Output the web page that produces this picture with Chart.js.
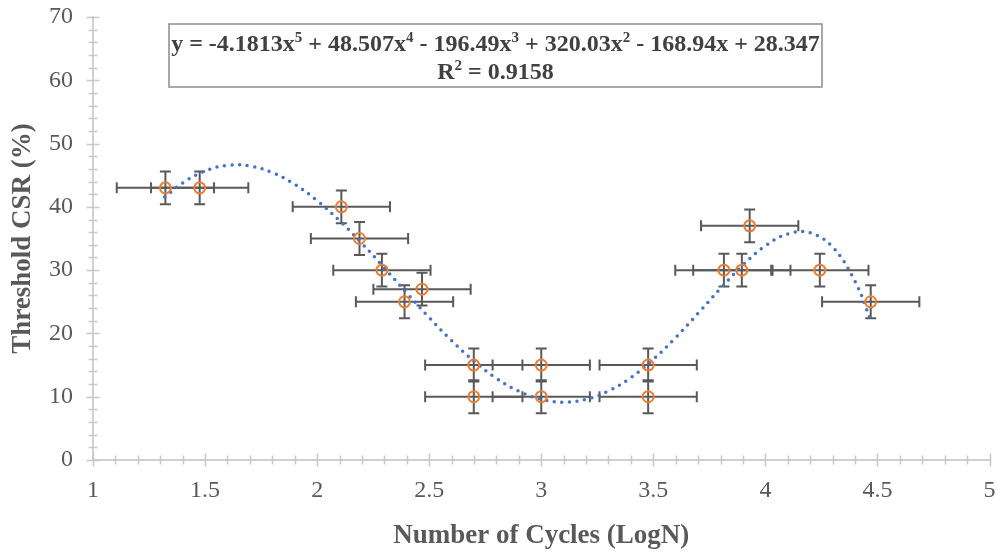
<!DOCTYPE html>
<html>
<head>
<meta charset="utf-8">
<script src="https://cdn.jsdelivr.net/npm/chart.js"></script>
<style>
html,body{margin:0;padding:0;background:#fff;}
</style>
</head>
<body>
<canvas id="myChart" width="997" height="552"></canvas>
<script>
// test points: LogN and threshold CSR (%)
var xValues = [1.323, 1.476, 2.108, 2.189, 2.289, 2.468, 2.390, 2.699, 2.699, 3.0, 3.0, 3.477, 3.477, 3.815, 3.895, 3.930, 4.243, 4.470];
var yValues = [43, 43, 40, 35, 30, 27, 25, 15, 10, 15, 10, 15, 10, 30, 30, 37, 30, 25];
// error bar half widths (same for every point)
var xErr = 0.217;
var yErr = 2.6;

// poly trendline
var trendX = [1.32, 1.4, 1.5, 1.6, 1.7, 1.8, 1.9, 2.0, 2.1, 2.2, 2.3, 2.4, 2.5, 2.6, 2.7, 2.8, 2.9, 3.0, 3.1, 3.2, 3.3, 3.4, 3.5, 3.6, 3.7, 3.8, 3.9, 4.0, 4.1, 4.2, 4.3, 4.4, 4.47];
var trendY = [41.56, 43.78, 45.67, 46.55, 46.45, 45.42, 43.56, 40.98, 37.81, 34.22, 30.35, 26.39, 22.50, 18.86, 15.60, 12.90, 10.86, 9.58, 9.14, 9.58, 10.89, 13.03, 15.90, 19.36, 23.19, 27.12, 30.81, 33.85, 35.73, 35.89, 33.65, 28.23, 22.11];

var eqLine1 = [['y = -4.1813x', 0], ['5', 1], [' + 48.507x', 0], ['4', 1], [' - 196.49x', 0], ['3', 1], [' + 320.03x', 0], ['2', 1], [' - 168.94x + 28.347', 0]];
var eqLine2 = [['R', 0], ['2', 1], [' = 0.9158', 0]];

var serif = "'Liberation Serif', 'Times New Roman', serif";

var pts = xValues.map(function(x, i){ return {x: x, y: yValues[i]}; });
var trend = trendX.map(function(x, i){ return {x: x, y: trendY[i]}; });

// error bars under the markers
var errorBars = {
  id: 'errorBars',
  beforeDatasetsDraw: function(chart){
    var ctx = chart.ctx, xs = chart.scales.x, ys = chart.scales.y;
    var cap = 5.5;
    ctx.save();
    ctx.strokeStyle = '#595959';
    ctx.lineWidth = 2;
    pts.forEach(function(p){
      var px = xs.getPixelForValue(p.x), py = ys.getPixelForValue(p.y);
      var x1 = xs.getPixelForValue(p.x - xErr), x2 = xs.getPixelForValue(p.x + xErr);
      var y1 = ys.getPixelForValue(p.y - yErr), y2 = ys.getPixelForValue(p.y + yErr);
      ctx.beginPath();
      ctx.moveTo(x1, py); ctx.lineTo(x2, py);
      ctx.moveTo(x1, py - cap); ctx.lineTo(x1, py + cap);
      ctx.moveTo(x2, py - cap); ctx.lineTo(x2, py + cap);
      ctx.moveTo(px, y1); ctx.lineTo(px, y2);
      ctx.moveTo(px - cap, y1); ctx.lineTo(px + cap, y1);
      ctx.moveTo(px - cap, y2); ctx.lineTo(px + cap, y2);
      ctx.stroke();
    });
    ctx.restore();
  }
};

// excel style cross tick marks
var crossTicks = {
  id: 'crossTicks',
  afterDraw: function(chart){
    var ctx = chart.ctx, xs = chart.scales.x, ys = chart.scales.y;
    var a = chart.chartArea;
    ctx.save();
    ctx.strokeStyle = '#C8C8C8';
    ctx.lineWidth = 1.5;
    ctx.beginPath();
    for (var i = 0; i <= 40; i++) {
      var v = 1 + i * 0.1;
      var px = Math.round(xs.getPixelForValue(v)) + 0.5;
      var h = (i % 5 === 0) ? 6.5 : 4.5;
      ctx.moveTo(px, a.bottom - h); ctx.lineTo(px, a.bottom + h);
    }
    for (var j = 0; j <= 35; j++) {
      var py = Math.round(ys.getPixelForValue(j * 2)) + 0.5;
      var w = (j % 5 === 0) ? 6.5 : 4.5;
      ctx.moveTo(a.left - w, py); ctx.lineTo(a.left + w, py);
    }
    ctx.stroke();
    ctx.restore();
  }
};

function drawParts(ctx, parts, cx, baseline){
  var big = 'bold 24px ' + serif, small = 'bold 15px ' + serif;
  var total = 0;
  parts.forEach(function(p){ ctx.font = p[1] ? small : big; total += ctx.measureText(p[0]).width; });
  var x = cx - total / 2;
  parts.forEach(function(p){
    ctx.font = p[1] ? small : big;
    ctx.fillText(p[0], x, p[1] ? baseline - 9 : baseline);
    x += ctx.measureText(p[0]).width;
  });
}

var eqBox = {
  id: 'eqBox',
  afterDraw: function(chart){
    var ctx = chart.ctx, a = chart.chartArea;
    var bx = a.left + 76, by = a.top + 7, bw = 653, bh = 63;
    ctx.save();
    ctx.fillStyle = '#fff';
    ctx.fillRect(bx, by, bw, bh);
    ctx.strokeStyle = '#8C8C8C';
    ctx.lineWidth = 1.5;
    ctx.strokeRect(bx, by, bw, bh);
    ctx.fillStyle = '#404040';
    ctx.textBaseline = 'alphabetic';
    ctx.textAlign = 'left';
    drawParts(ctx, eqLine1, bx + bw / 2, by + 27);
    drawParts(ctx, eqLine2, bx + bw / 2, by + 55);
    ctx.restore();
  }
};

new Chart(document.getElementById("myChart"), {
  type: "scatter",
  data: {
    datasets: [{
      label: 'Threshold CSR',
      data: pts,
      pointStyle: 'circle',
      pointRadius: 5.5,
      pointHoverRadius: 5.5,
      pointBorderWidth: 2,
      borderColor: '#ED7D31',
      backgroundColor: 'rgba(0,0,0,0)',
      showLine: false
    },{
      label: 'Poly. trend',
      data: trend,
      showLine: true,
      pointRadius: 0,
      borderColor: '#4472C4',
      borderWidth: 3.5,
      borderDash: [0, 7.6],
      borderCapStyle: 'round',
      tension: 0.4,
      fill: false
    }]
  },
  options: {
    responsive: false,
    animation: false,
    devicePixelRatio: 1,
    layout: {padding: {top: 17, right: 6, left: 0, bottom: 0}},
    plugins: {
      legend: {display: false},
      tooltip: {enabled: false}
    },
    scales: {
      x: {
        type: 'linear',
        min: 1, max: 5,
        grid: {display: false, drawTicks: false},
        border: {display: true, color: '#D0D0D0', width: 2},
        ticks: {
          stepSize: 0.5, padding: 16, color: '#595959', font: {family: serif, size: 24},
          callback: function(v){ return String(Math.round(v * 10) / 10); }
        },
        title: {display: true, text: 'Number of Cycles (LogN)', color: '#595959', padding: {top: 0, bottom: 0}, font: {family: serif, size: 27, weight: 'bold'}},
        afterFit: function(s){ s.height = 92; s.paddingLeft = 0; s.paddingRight = 0; }
      },
      y: {
        type: 'linear',
        min: 0, max: 70,
        grid: {display: false, drawTicks: false},
        border: {display: true, color: '#D0D0D0', width: 2},
        ticks: {stepSize: 10, padding: 20, color: '#595959', font: {family: serif, size: 24}},
        title: {display: true, text: 'Threshold CSR (%)', color: '#595959', padding: {top: 7, bottom: 0}, font: {family: serif, size: 27, weight: 'bold'}},
        afterFit: function(s){ s.width = 93; s.paddingTop = 0; s.paddingBottom = 0; }
      }
    }
  },
  plugins: [errorBars, crossTicks, eqBox]
});
</script>
</body>
</html>
